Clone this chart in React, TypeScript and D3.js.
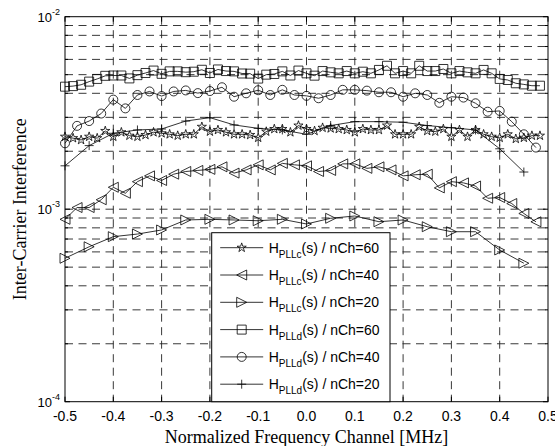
import { useEffect, useRef } from 'react';
import * as d3 from 'd3';

const xTicks = [-0.5, -0.4, -0.3, -0.2, -0.1, 0, 0.1, 0.2, 0.3, 0.4, 0.5];
const yTicks = [1e-4, 1e-3, 1e-2];
const yTickExp = ['-4', '-3', '-2'];

// inter-carrier interference, units of 1e-3
// H_PLLc(s) / nCh=60
const pllc60 = [
  2.38, 2.34, 2.29, 2.38, 2.34, 2.55, 2.38, 2.51, 2.41, 2.38,
  2.43, 2.51, 2.48, 2.45, 2.41, 2.45, 2.45, 2.68, 2.53, 2.58,
  2.51, 2.45, 2.45, 2.43, 2.35, 2.53, 2.61, 2.61, 2.51, 2.72,
  2.61, 2.55, 2.65, 2.63, 2.61, 2.58, 2.51, 2.61, 2.58, 2.58,
  2.72, 2.45, 2.45, 2.45, 2.68, 2.55, 2.53, 2.61, 2.38, 2.58,
  2.38, 2.58, 2.45, 2.38, 2.35, 2.45, 2.32, 2.35, 2.41, 2.41,
];
// H_PLLc(s) / nCh=40
const pllc40 = [
  0.886, 1.02, 1.02, 1.12, 1.3, 1.21, 1.39, 1.49, 1.41, 1.52,
  1.57, 1.59, 1.61, 1.66, 1.54, 1.6, 1.7, 1.6, 1.73, 1.7,
  1.68, 1.57, 1.59, 1.72, 1.72, 1.63, 1.66, 1.6, 1.49, 1.51,
  1.52, 1.29, 1.39, 1.37, 1.32, 1.14, 1.15, 1.07, 0.95, 0.86,
];
// H_PLLc(s) / nCh=20
const pllc20 = [
  0.556, 0.638, 0.72, 0.743, 0.78, 0.879, 0.886, 0.879, 0.871, 0.886,
  0.838, 0.897, 0.922, 0.861, 0.879, 0.811, 0.764, 0.764, 0.614, 0.524,
];
// H_PLLd(s) / nCh=60
const plld60 = [
  4.33, 4.36, 4.43, 4.6, 4.75, 4.93, 4.95, 4.95, 4.78, 4.97,
  5.1, 5.25, 5.05, 5.2, 5.2, 5.15, 5.18, 5.3, 5.1, 5.32,
  5.22, 5.2, 5.07, 5.06, 4.77, 5.0, 5.04, 5.2, 4.95, 5.25,
  5.08, 4.94, 5.22, 5.14, 5.08, 5.22, 5.08, 5.18, 5.08, 5.29,
  5.56, 5.08, 5.22, 5.08, 5.56, 5.22, 5.22, 5.35, 5.08, 5.22,
  5.14, 5.08, 5.29, 5.08, 4.75, 4.69, 4.51, 4.45, 4.38, 4.38,
];
// H_PLLd(s) / nCh=40
const plld40 = [
  2.2, 2.71, 2.87, 3.14, 3.71, 3.34, 3.92, 4.09, 3.87, 4.09,
  4.14, 4.01, 4.11, 4.3, 3.84, 4.0, 4.15, 3.92, 4.17, 3.92,
  3.88, 3.77, 3.92, 4.17, 4.17, 4.13, 4.05, 4.05, 3.84, 4.0,
  3.92, 3.57, 3.84, 3.8, 3.55, 3.21, 3.24, 2.85, 2.45, 2.09,
];
// H_PLLd(s) / nCh=20
const plld20 = [
  1.68, 2.14, 2.48, 2.58, 2.61, 2.87, 2.99, 2.74, 2.63, 2.58,
  2.45, 2.72, 2.85, 2.85, 2.83, 2.72, 2.65, 2.58, 2.06, 1.56,
];

const seriesValues = [pllc60, pllc40, pllc20, plld60, plld40, plld20];
const seriesMarkers = ['star', 'triLeft', 'triRight', 'square', 'circle', 'plus'];
const legendSub = ['PLLc', 'PLLc', 'PLLc', 'PLLd', 'PLLd', 'PLLd'];
const legendCh = ['60', '40', '20', '60', '40', '20'];

const SANS = '"Liberation Sans", Arial, Helvetica, sans-serif';
const SERIF = '"Liberation Serif", "Times New Roman", serif';

function markerPath(type: string) {
  switch (type) {
    case 'star':
      return d3.symbol(d3.symbolStar, 26)() as string;
    case 'square':
      return 'M-4.5,-4.5H4.5V4.5H-4.5Z';
    case 'circle':
      return d3.symbol(d3.symbolCircle, Math.PI * 4.5 * 4.5)() as string;
    case 'plus':
      return 'M-4.5,0H4.5M0,-4.5V4.5';
    case 'triLeft':
      return 'M-5,0L5,-5L5,5Z';
    case 'triRight':
      return 'M5,0L-5,-5L-5,5Z';
  }
  return '';
}

export default function App() {
  const svgRef = useRef<SVGSVGElement>(null);

  useEffect(() => {
    const svg = d3.select(svgRef.current);
    svg.selectAll('*').remove();

    const left = 65, right = 548, top = 16.7, bottom = 401.7;
    const x = d3.scaleLinear().domain([-0.5, 0.5]).range([left, right]);
    const y = d3.scaleLog().domain([1e-4, 1e-2]).range([bottom, top]);

    // grid
    const grid = svg.append('g')
      .attr('stroke', '#222')
      .attr('stroke-width', 0.9)
      .attr('stroke-dasharray', '8,5.5');
    grid.selectAll('.gx')
      .data(xTicks.slice(1, -1))
      .join('line')
      .attr('x1', (d) => x(d)).attr('x2', (d) => x(d))
      .attr('y1', top).attr('y2', bottom);
    const minor = y.ticks().filter((d) => d > 1e-4 * 1.01 && d < 1e-2 * 0.99);
    grid.selectAll('.gy')
      .data(minor)
      .join('line')
      .attr('x1', left).attr('x2', right)
      .attr('y1', (d) => y(d)).attr('y2', (d) => y(d));

    // series
    seriesValues.forEach((vals, s) => {
      const n = vals.length;
      const pts = vals.map((v, i) => [-0.5 + i / n, v * 1e-3] as [number, number]);
      const ln = d3.line<[number, number]>()
        .x((d) => x(d[0]))
        .y((d) => y(d[1]));
      const g = svg.append('g');
      g.append('path')
        .attr('d', ln(pts))
        .attr('fill', 'none')
        .attr('stroke', '#000')
        .attr('stroke-width', 0.8);
      g.selectAll('path.m')
        .data(pts)
        .join('path')
        .attr('class', 'm')
        .attr('transform', (d) => `translate(${x(d[0])},${y(d[1])})`)
        .attr('d', markerPath(seriesMarkers[s]))
        .attr('fill', 'none')
        .attr('stroke', '#000')
        .attr('stroke-width', 0.8);
    });

    // box and ticks
    const ax = svg.append('g').attr('stroke', '#000').attr('stroke-width', 1);
    ax.append('rect')
      .attr('x', left).attr('y', top)
      .attr('width', right - left).attr('height', bottom - top)
      .attr('fill', 'none');
    xTicks.forEach((t) => {
      ax.append('line').attr('x1', x(t)).attr('x2', x(t)).attr('y1', bottom).attr('y2', bottom - 5);
      ax.append('line').attr('x1', x(t)).attr('x2', x(t)).attr('y1', top).attr('y2', top + 5);
    });
    y.ticks().forEach((t) => {
      const major = yTicks.some((m) => Math.abs(m - t) / m < 1e-6);
      const len = major ? 5 : 3;
      ax.append('line').attr('x1', left).attr('x2', left + len).attr('y1', y(t)).attr('y2', y(t));
      ax.append('line').attr('x1', right).attr('x2', right - len).attr('y1', y(t)).attr('y2', y(t));
    });

    // tick labels
    svg.append('g')
      .selectAll('text')
      .data(xTicks)
      .join('text')
      .attr('x', (d) => x(d))
      .attr('y', 420.5)
      .attr('text-anchor', 'middle')
      .attr('font-family', SANS)
      .attr('font-size', 14)
      .text((d) => d3.format('.1f')(d).replace('−', '-'));

    const yl = svg.append('g')
      .selectAll('text')
      .data(yTicks)
      .join('text')
      .attr('x', 60)
      .attr('y', (d) => y(d) + 5)
      .attr('text-anchor', 'end')
      .attr('font-family', SANS)
      .attr('font-size', 13);
    yl.append('tspan').text('10');
    yl.append('tspan')
      .attr('dy', -7)
      .attr('font-size', 9)
      .text((d, i) => yTickExp[i]);

    // axis titles
    svg.append('text')
      .attr('x', (left + right) / 2)
      .attr('y', 442.5)
      .attr('text-anchor', 'middle')
      .attr('font-family', SERIF)
      .attr('font-size', 18)
      .text('Normalized Frequency Channel [MHz]');
    svg.append('text')
      .attr('transform', `translate(26,${(top + bottom) / 2}) rotate(-90)`)
      .attr('text-anchor', 'middle')
      .attr('font-family', SERIF)
      .attr('font-size', 18)
      .text('Inter-Carrier Interference');

    // legend
    const lx = 211.7, ly = 232.7, lw = 178.3, lh = 169;
    const leg = svg.append('g');
    leg.append('rect')
      .attr('x', lx).attr('y', ly).attr('width', lw).attr('height', lh)
      .attr('fill', '#fff').attr('stroke', '#000').attr('stroke-width', 1);
    seriesMarkers.forEach((m, i) => {
      const ry = ly + 15 + i * 27.3;
      leg.append('line')
        .attr('x1', lx + 8.5).attr('x2', lx + 51.5)
        .attr('y1', ry).attr('y2', ry)
        .attr('stroke', '#000').attr('stroke-width', 0.8);
      leg.append('path')
        .attr('transform', `translate(${lx + 30},${ry})`)
        .attr('d', markerPath(m))
        .attr('fill', 'none').attr('stroke', '#000').attr('stroke-width', 0.8);
      const t = leg.append('text')
        .attr('x', lx + 57)
        .attr('y', ry + 5)
        .attr('font-family', SANS)
        .attr('font-size', 14);
      t.append('tspan').text('H');
      t.append('tspan').attr('dy', 5).attr('font-size', 10).text(legendSub[i]);
      t.append('tspan').attr('dy', -5).text(`(s) / nCh=${legendCh[i]}`);
    });
  }, []);

  return (
    <svg
      ref={svgRef}
      width={555}
      height={446}
      style={{ position: 'absolute', left: 0, top: 0, background: '#fff' }}
    />
  );
}
